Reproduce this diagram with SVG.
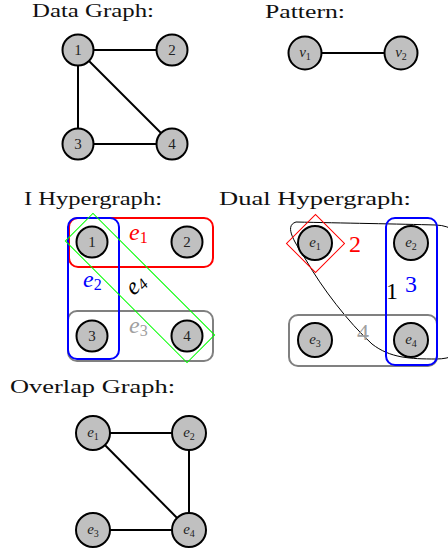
<svg xmlns="http://www.w3.org/2000/svg" width="448" height="552" viewBox="0 0 448 552" font-family="Liberation Serif, DejaVu Serif, serif">
<style>
text{font-family:"Liberation Serif","DejaVu Serif",serif}
.title{font-size:18px;fill:#111}
.node circle{fill:#c0c0c0;stroke:#000;stroke-width:2}
.node text{font-size:15px;fill:#222;text-anchor:middle}
.it{font-style:italic}
.edge line{stroke:#000;stroke-width:2}
.he{fill:none;stroke-width:2}
.big{font-size:24px}
</style>
<rect width="448" height="552" fill="#fff"/>

<!-- Titles -->
<text class="title" x="32" y="17" textLength="122" lengthAdjust="spacingAndGlyphs">Data Graph:</text>
<text class="title" x="265" y="18" textLength="80" lengthAdjust="spacingAndGlyphs">Pattern:</text>
<text class="title" x="24" y="205" textLength="138" lengthAdjust="spacingAndGlyphs">I Hypergraph:</text>
<text class="title" x="219" y="205" textLength="192" lengthAdjust="spacingAndGlyphs">Dual Hypergraph:</text>
<text class="title" x="10" y="393" textLength="165" lengthAdjust="spacingAndGlyphs">Overlap Graph:</text>

<!-- Connectors -->
<g id="connectors" class="edge">
  <line x1="78" y1="50" x2="172" y2="50"/>
  <line x1="78" y1="50" x2="78" y2="144"/>
  <line x1="78" y1="50" x2="172" y2="144"/>
  <line x1="78" y1="144" x2="172" y2="144"/>
  <line x1="305" y1="53" x2="401" y2="53"/>
  <line x1="93" y1="433" x2="189" y2="433"/>
  <line x1="93" y1="433" x2="189" y2="530"/>
  <line x1="189" y1="433" x2="189" y2="530"/>
  <line x1="93" y1="530" x2="189" y2="530"/>
</g>

<!-- Data graph nodes -->
<g id="d1" class="node"><circle cx="78" cy="50" r="15.5"/><text x="78" y="55">1</text></g>
<g id="d2" class="node"><circle cx="172" cy="50" r="15.5"/><text x="172" y="55">2</text></g>
<g id="d3" class="node"><circle cx="78" cy="144" r="15.5"/><text x="78" y="149">3</text></g>
<g id="d4" class="node"><circle cx="172" cy="144" r="15.5"/><text x="172" y="149">4</text></g>

<!-- Pattern nodes -->
<g id="v1" class="node"><circle cx="305" cy="53" r="16.5"/><text x="305" y="57" class="it">v<tspan font-size="10" font-style="normal" dy="3">1</tspan></text></g>
<g id="v2" class="node"><circle cx="401" cy="53" r="16.5"/><text x="401" y="57" class="it">v<tspan font-size="10" font-style="normal" dy="3">2</tspan></text></g>

<!-- I Hypergraph -->
<g id="ihyper">
  <rect class="he" x="69" y="218" width="144" height="49" rx="9" stroke="#ff0000"/>
  <rect class="he" x="68" y="311" width="145" height="50" rx="9" stroke="#808080"/>
  <rect class="he" x="68" y="218" width="51" height="141" rx="9" stroke="#0000ff"/>
  <rect x="-86" y="-19.5" width="172" height="39" transform="translate(140,288) rotate(45)" fill="none" stroke="#00ff00" stroke-width="1"/>
  <text class="big it" x="129" y="240" fill="#ff0000">e<tspan font-size="16" font-style="normal" dy="3">1</tspan></text>
  <text class="big it" x="83" y="287" fill="#0000ff">e<tspan font-size="16" font-style="normal" dy="3">2</tspan></text>
  <text class="big it" x="129" y="333" fill="#a0a0a0">e<tspan font-size="16" font-style="normal" dy="3">3</tspan></text>
  <text class="big it" transform="translate(137,286) rotate(-45)" x="0" y="5" text-anchor="middle" fill="#000">e<tspan font-size="16" dy="3">4</tspan></text>
</g>
<g id="i1" class="node"><circle cx="92" cy="242" r="15.5"/><text x="92" y="247">1</text></g>
<g id="i2" class="node"><circle cx="187" cy="242" r="15.5"/><text x="187" y="247">2</text></g>
<g id="i3" class="node"><circle cx="92" cy="336" r="15.5"/><text x="92" y="341">3</text></g>
<g id="i4" class="node"><circle cx="187" cy="336" r="15.5"/><text x="187" y="341">4</text></g>

<!-- Dual Hypergraph -->
<g id="dual">
  <path d="M 296,222 C 340,223 400,224 436,225 C 468,226 474,260 472,300 C 470,340 466,359 436,359 C 410,359 390,358 372,344 C 348,322 322,288 306,260 C 296,244 283,226 296,222 Z" fill="none" stroke="#000" stroke-width="1"/>
  <rect x="-20.5" y="-20.5" width="41" height="41" transform="translate(315.5,243.5) rotate(45)" fill="none" stroke="#ff0000" stroke-width="1"/>
  <rect class="he" x="289" y="315" width="148" height="51" rx="9" stroke="#808080"/>
  <rect class="he" x="386" y="218" width="51" height="147" rx="9" stroke="#0000ff"/>
  <text class="big" x="349" y="252" fill="#ff0000">2</text>
  <text class="big" x="405" y="292" fill="#0000ff">3</text>
  <text class="big" x="386" y="299" fill="#000">1</text>
  <text class="big" x="357" y="340" fill="#a0a0a0">4</text>
</g>
<g id="de1" class="node"><circle cx="315" cy="243" r="17"/><text x="315" y="247" class="it">e<tspan font-size="10" font-style="normal" dy="3">1</tspan></text></g>
<g id="de2" class="node"><circle cx="411" cy="243" r="17"/><text x="411" y="247" class="it">e<tspan font-size="10" font-style="normal" dy="3">2</tspan></text></g>
<g id="de3" class="node"><circle cx="315" cy="340" r="17"/><text x="315" y="344" class="it">e<tspan font-size="10" font-style="normal" dy="3">3</tspan></text></g>
<g id="de4" class="node"><circle cx="411" cy="340" r="17"/><text x="411" y="344" class="it">e<tspan font-size="10" font-style="normal" dy="3">4</tspan></text></g>

<!-- Overlap graph nodes -->
<g id="o1" class="node"><circle cx="93" cy="433" r="17"/><text x="93" y="437" class="it">e<tspan font-size="10" font-style="normal" dy="3">1</tspan></text></g>
<g id="o2" class="node"><circle cx="189" cy="433" r="17"/><text x="189" y="437" class="it">e<tspan font-size="10" font-style="normal" dy="3">2</tspan></text></g>
<g id="o3" class="node"><circle cx="93" cy="530" r="17"/><text x="93" y="534" class="it">e<tspan font-size="10" font-style="normal" dy="3">3</tspan></text></g>
<g id="o4" class="node"><circle cx="189" cy="530" r="17"/><text x="189" y="534" class="it">e<tspan font-size="10" font-style="normal" dy="3">4</tspan></text></g>
</svg>
